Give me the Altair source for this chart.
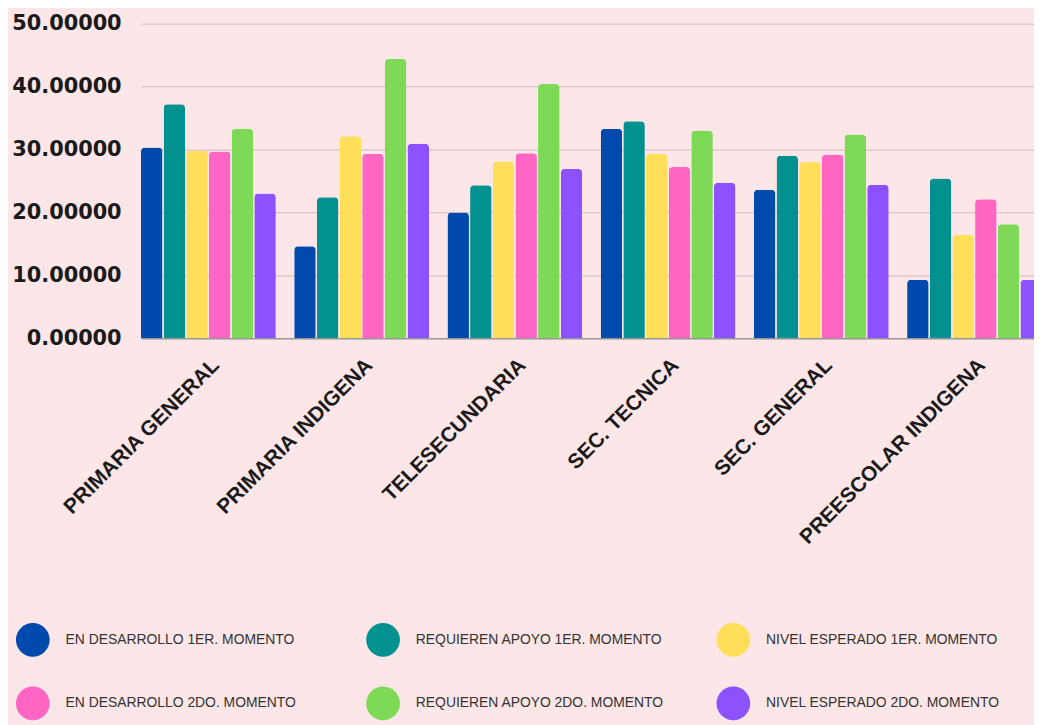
import altair as alt
import pandas as pd

categories = ["PRIMARIA GENERAL", "PRIMARIA INDIGENA", "TELESECUNDARIA",
              "SEC. TECNICA", "SEC. GENERAL", "PREESCOLAR INDIGENA"]

series = ["EN DESARROLLO 1ER. MOMENTO", "REQUIEREN APOYO 1ER. MOMENTO",
          "NIVEL ESPERADO 1ER. MOMENTO", "EN DESARROLLO 2DO. MOMENTO",
          "REQUIEREN APOYO 2DO. MOMENTO", "NIVEL ESPERADO 2DO. MOMENTO"]

en_desarrollo_1 = [30.3, 14.6, 20.0, 33.3, 23.6, 9.3]
requieren_apoyo_1 = [37.2, 22.4, 24.3, 34.5, 29.0, 25.4]
nivel_esperado_1 = [29.8, 32.1, 28.1, 29.3, 28.0, 16.4]
en_desarrollo_2 = [29.7, 29.3, 29.4, 27.2, 29.2, 22.1]
requieren_apoyo_2 = [33.3, 44.4, 40.4, 33.0, 32.4, 18.1]
nivel_esperado_2 = [23.0, 30.9, 26.9, 24.7, 24.4, 9.3]

colors = ["#004AAD", "#03918F", "#FFDE59", "#FF66C4", "#7ED957", "#8C52FF"]

values_by_series = [en_desarrollo_1, requieren_apoyo_1, nivel_esperado_1,
                    en_desarrollo_2, requieren_apoyo_2, nivel_esperado_2]

rows = []
for s, vals in zip(series, values_by_series):
    for c, v in zip(categories, vals):
        rows.append({"categoria": c, "serie": s, "valor": v})
df = pd.DataFrame(rows)

BG = "#FCE6E7"

chart = alt.Chart(df).mark_bar(
    cornerRadiusTopLeft=4, cornerRadiusTopRight=4
).encode(
    x=alt.X("categoria:N", sort=categories, title=None,
            scale=alt.Scale(rangeMax=908, paddingInner=0.12, paddingOuter=0),
            axis=alt.Axis(labelAngle=-45, labelAlign="right", labelBaseline="top",
                          labelOffset=0, labelPadding=16, ticks=False,
                          domainColor="#9a9a9a", domainWidth=1.5,
                          labelFont="Liberation Sans", labelFontSize=21,
                          labelFontWeight="bold", labelColor="#1a1a1a",
                          labelLimit=400, grid=False)),
    xOffset=alt.XOffset("serie:N", sort=series,
                        scale=alt.Scale(paddingInner=0.05, paddingOuter=0)),
    y=alt.Y("valor:Q", title=None,
            scale=alt.Scale(domain=[0, 50], nice=False),
            axis=alt.Axis(values=[0, 10, 20, 30, 40, 50], format=".5f",
                          ticks=False, domain=False, grid=True,
                          gridColor="#d8c4c5", gridWidth=1.2,
                          labelFont="DejaVu Sans", labelFontSize=21,
                          labelFontWeight="bold", labelColor="#1a1a1a",
                          labelPadding=20)),
    color=alt.Color("serie:N", sort=series, title=None,
                    scale=alt.Scale(domain=series, range=colors),
                    legend=alt.Legend(orient="none", legendX=-126, legendY=604,
                                      direction="horizontal",
                                      columns=3, gridAlign="all",
                                      symbolType="circle", symbolSize=1156,
                                      symbolStrokeWidth=0, symbolOpacity=1,
                                      labelFont="Liberation Sans", labelFontSize=14,
                                      labelColor="#333333", labelLimit=400,
                                      labelOffset=16, columnPadding=52,
                                      rowPadding=30, padding=0)),
).properties(
    width=900, height=317,
    autosize=alt.AutoSizeParams(type="none"),
    padding={"left": 134, "top": 13, "right": 0, "bottom": 387},
    background=BG,
).configure_view(stroke=None)

chart.save("out.html", embed_options={"renderer": "svg", "actions": False})
